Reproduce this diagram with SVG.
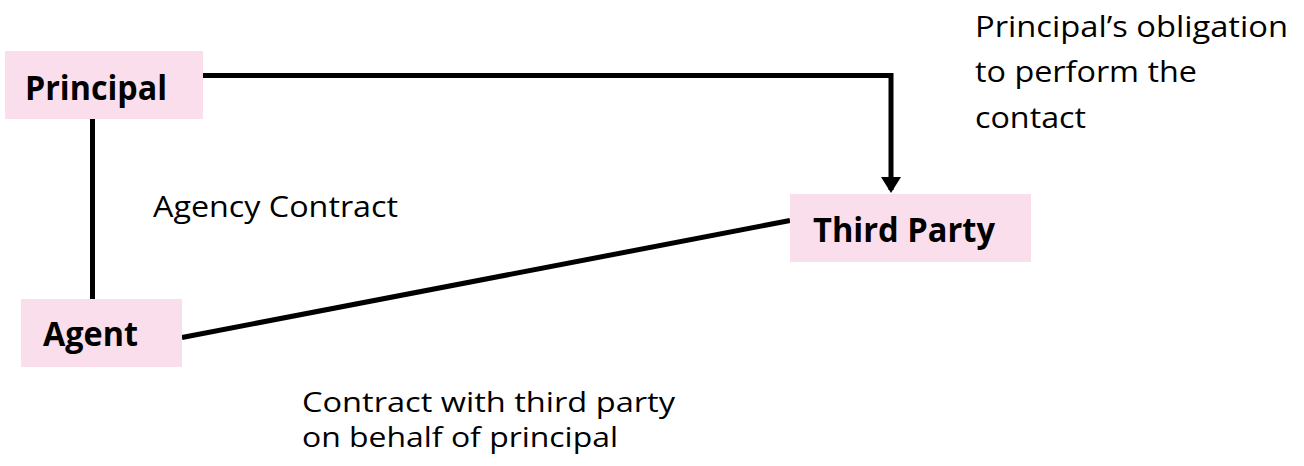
<svg xmlns="http://www.w3.org/2000/svg" width="1304" height="466" viewBox="0 0 1304 466">
<style>
.box{fill:#fbdeeb}
.node{font-family:"Open Sans","Liberation Sans",sans-serif;font-weight:bold;font-size:34px;fill:#000}
.lbl{font-family:"Open Sans","Liberation Sans",sans-serif;font-size:30px;fill:#000}
.lbl2{font-family:"Open Sans","Liberation Sans",sans-serif;font-size:28px;fill:#000}
.conn{stroke:#000;stroke-width:5;fill:none}
</style>
<defs>
<marker id="arr" markerWidth="4" markerHeight="4" refX="2.6" refY="2" orient="auto" markerUnits="strokeWidth">
<path d="M0,0 L3.2,2 L0,4 Z" fill="#000"/>
</marker>
</defs>
<rect width="1304" height="466" fill="#fff"/>
<g id="connectors">
<path class="conn" d="M203,75.5 H891 V190" marker-end="url(#arr)"/>
<line class="conn" x1="92.5" y1="119" x2="92.5" y2="299"/>
<line class="conn" x1="182" y1="337.5" x2="790" y2="220.5"/>
</g>
<g id="principal">
<rect class="box" x="5" y="51" width="198" height="68"/>
<text class="node" x="25" y="99.5" textLength="142" lengthAdjust="spacingAndGlyphs">Principal</text>
</g>
<g id="agent">
<rect class="box" x="21" y="299" width="161" height="68"/>
<text class="node" x="43" y="346" textLength="95" lengthAdjust="spacingAndGlyphs">Agent</text>
</g>
<g id="third-party">
<rect class="box" x="790" y="194" width="241" height="68"/>
<text class="node" x="813" y="242" textLength="182" lengthAdjust="spacingAndGlyphs">Third Party</text>
</g>
<g id="labels">
<text class="lbl" x="975" y="36.5" textLength="313" lengthAdjust="spacingAndGlyphs">Principal’s obligation</text>
<text class="lbl" x="975" y="81.5" textLength="222" lengthAdjust="spacingAndGlyphs">to perform the</text>
<text class="lbl" x="975" y="128" textLength="111" lengthAdjust="spacingAndGlyphs">contact</text>
<text class="lbl" x="153" y="217" textLength="245" lengthAdjust="spacingAndGlyphs">Agency Contract</text>
<text class="lbl2" x="302" y="412" textLength="373" lengthAdjust="spacingAndGlyphs">Contract with third party</text>
<text class="lbl2" x="302" y="446.5" textLength="316" lengthAdjust="spacingAndGlyphs">on behalf of principal</text>
</g>
</svg>
